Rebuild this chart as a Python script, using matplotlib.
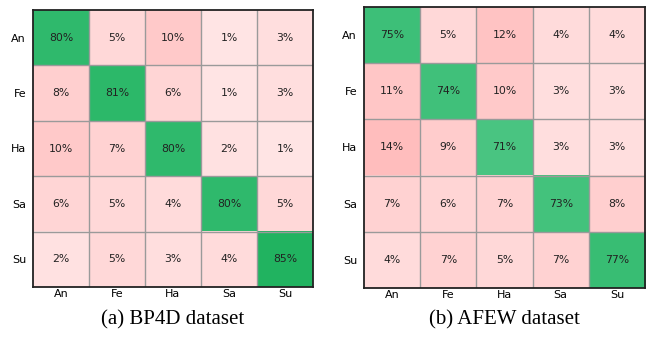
import numpy as np
import matplotlib
matplotlib.use("Agg")
import matplotlib.pyplot as plt
from matplotlib.colors import LinearSegmentedColormap, Normalize

labels = ["An", "Fe", "Ha", "Sa", "Su"]

bp4d = [
    [80, 5, 10, 1, 3],
    [8, 81, 6, 1, 3],
    [10, 7, 80, 2, 1],
    [6, 5, 4, 80, 5],
    [2, 5, 3, 4, 85],
]
afew = [
    [75, 5, 12, 4, 4],
    [11, 74, 10, 3, 3],
    [14, 9, 71, 3, 3],
    [7, 6, 7, 73, 8],
    [4, 7, 5, 7, 77],
]
captions = ["(a) BP4D dataset", "(b) AFEW dataset"]

pink = LinearSegmentedColormap.from_list("pink", ["#ffe8e8", "#ffbaba"])
green = LinearSegmentedColormap.from_list("green", ["#4cc684", "#1fb25e"])
pnorm = Normalize(0, 15)
gnorm = Normalize(70, 86)

fig = plt.figure(figsize=(6.46, 3.37), dpi=100)
axes_pos = [
    [33 / 646, 1 - 287 / 337, 280 / 646, 277 / 337],
    [364 / 646, 1 - 288 / 337, 281 / 646, 281 / 337],
]

for data, cap, pos in zip([bp4d, afew], captions, axes_pos):
    ax = fig.add_axes(pos)
    arr = np.array(data, dtype=float)
    diag = np.eye(len(labels), dtype=bool)
    off = np.ma.masked_where(diag, arr)
    on = np.ma.masked_where(~diag, arr)
    ax.imshow(off, cmap=pink, norm=pnorm, aspect="auto", interpolation="nearest")
    ax.imshow(on, cmap=green, norm=gnorm, aspect="auto", interpolation="nearest")
    n = len(labels)
    for k in range(1, n):
        ax.axhline(k - 0.5, color="#9a9a9a", lw=1.0)
        ax.axvline(k - 0.5, color="#9a9a9a", lw=1.0)
    for i in range(n):
        for j in range(n):
            ax.text(j, i, f"{data[i][j]}%", ha="center", va="center",
                    fontsize=7.8, color="#222222")
    ax.set_xticks(range(n))
    ax.set_yticks(range(n))
    ax.set_xticklabels(labels, fontsize=8)
    ax.set_yticklabels(labels, fontsize=8)
    ax.tick_params(axis="x", length=0, pad=1.5)
    ax.tick_params(axis="y", length=0, pad=5)
    for s in ax.spines.values():
        s.set_color("#222222")
        s.set_linewidth(1.3)
    cx = pos[0] + pos[2] / 2
    fig.text(cx, 1 - 320 / 337, cap, ha="center", va="center",
             fontsize=15, family="Liberation Serif")

fig.savefig("out.png", dpi=100)
